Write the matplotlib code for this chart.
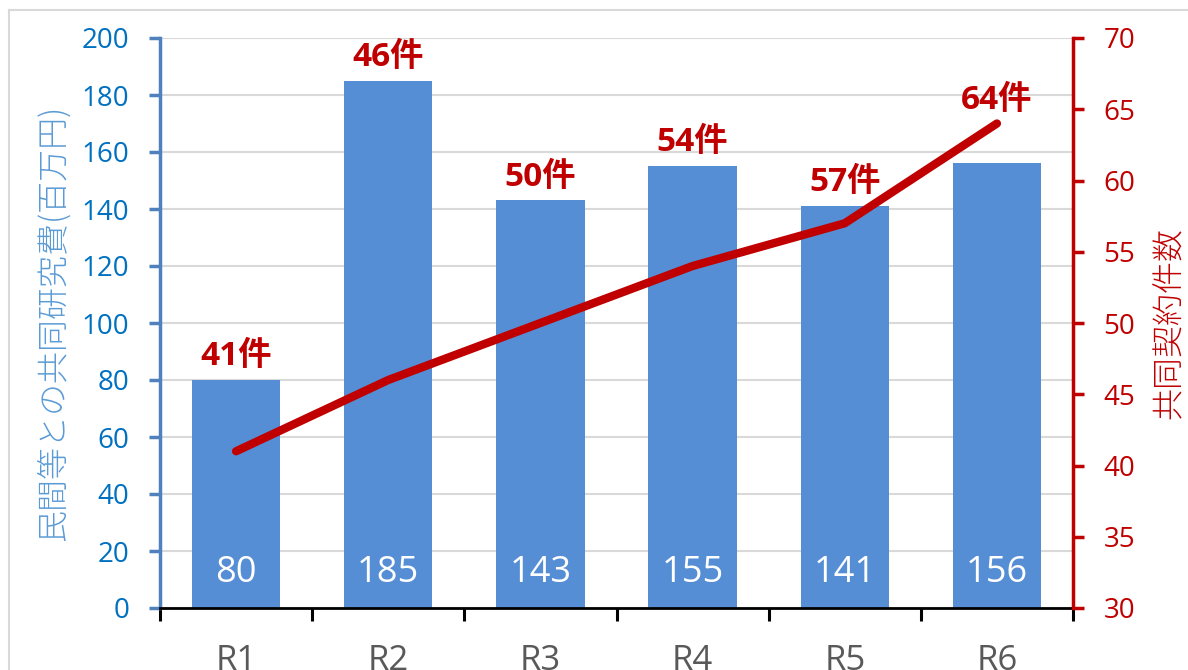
import matplotlib
matplotlib.use("Agg")
import matplotlib.pyplot as plt
from matplotlib.lines import Line2D

plt.rcParams['font.family'] = ['Open Sans', 'Noto Sans CJK JP', 'DejaVu Sans']

years = ['R1', 'R2', 'R3', 'R4', 'R5', 'R6']
funds = [80, 185, 143, 155, 141, 156]        # 百万円
contracts = [41, 46, 50, 54, 57, 64]         # 件

bar_color = '#558ed5'
red = '#c00000'
blue_tick = '#0070c0'
blue_label = '#5b9bd5'

fig = plt.figure(figsize=(11.88, 6.70), dpi=100)
ax = fig.add_axes([160 / 1188, 1 - 608 / 670, (1073 - 160) / 1188, (608 - 38) / 670])
ax2 = ax.twinx()

x = list(range(len(years)))
ax.bar(x, funds, width=0.58, color=bar_color, zorder=2)
for xi, v in zip(x, funds):
    ax.annotate(str(v), (xi, 0), xytext=(0, 25), textcoords='offset points',
                ha='center', va='center', color='white', fontsize=26)

ax.set_ylim(0, 200)
ax.set_yticks(range(0, 201, 20))
ax.set_xlim(-0.5, len(years) - 0.5)
ax.grid(axis='y', color='#d9d9d9', linewidth=1.5, zorder=0)
ax.set_axisbelow(True)

# category boundaries as ticks, labels in between
ax.set_xticks([i - 0.5 for i in range(len(years) + 1)])
ax.set_xticklabels([])
ax.set_xticks(x, minor=True)
ax.set_xticklabels(years, minor=True, color='#595959', fontsize=25)
ax.tick_params(axis='x', which='major', direction='out', length=9, width=2.2, color='black')
ax.tick_params(axis='x', which='minor', length=0, pad=26)

ax.tick_params(axis='y', direction='out', length=8, width=2.5, color='#4f81bd',
               labelcolor=blue_tick, labelsize=20, pad=14)
for s in ['top', 'right']:
    ax.spines[s].set_visible(False)
ax.spines['left'].set_color('#4f81bd')
ax.spines['left'].set_linewidth(2.5)
ax.spines['bottom'].set_color('black')
ax.spines['bottom'].set_linewidth(2)

ax.set_ylabel('民間等との共同研究費(百万円)', color=blue_label, fontsize=23,
              family=['Noto Sans CJK JP'], fontweight='light', labelpad=8)

# line on secondary axis
ax2.plot(x, contracts, color=red, linewidth=6, solid_capstyle='round', zorder=3)
ax2.set_ylim(30, 70)
ax2.set_yticks(range(30, 71, 5))
ax2.tick_params(axis='y', direction='out', length=8, width=2.5, color=red,
                labelcolor=red, labelsize=20, pad=14)
for s in ['top', 'left', 'bottom']:
    ax2.spines[s].set_visible(False)
ax2.spines['right'].set_color(red)
ax2.spines['right'].set_linewidth(2.5)
ax2.set_ylabel('共同契約件数', color=red, fontsize=23, family=['Noto Sans CJK JP'],
               fontweight='light', labelpad=12)

# labels above the higher of bar top and line point
for xi, v, f in zip(x, contracts, funds):
    bar_top = 30 + f / 200 * 40
    y = max(bar_top, v)
    ax2.annotate(f'{v}件', (xi, y), xytext=(0, 5), textcoords='offset points',
                 ha='center', va='bottom', color=red, fontsize=24, fontweight='bold',
                 family=['Open Sans', 'Noto Sans CJK JP'])

# outer chart frame (light gray)
fig.add_artist(Line2D([9 / 1188, 9 / 1188], [0, 1 - 10 / 670], transform=fig.transFigure,
                      color='#d9d9d9', linewidth=1.5))
fig.add_artist(Line2D([9 / 1188, 1], [1 - 10 / 670, 1 - 10 / 670], transform=fig.transFigure,
                      color='#d9d9d9', linewidth=1.5))

fig.savefig('out.png', dpi=100)
